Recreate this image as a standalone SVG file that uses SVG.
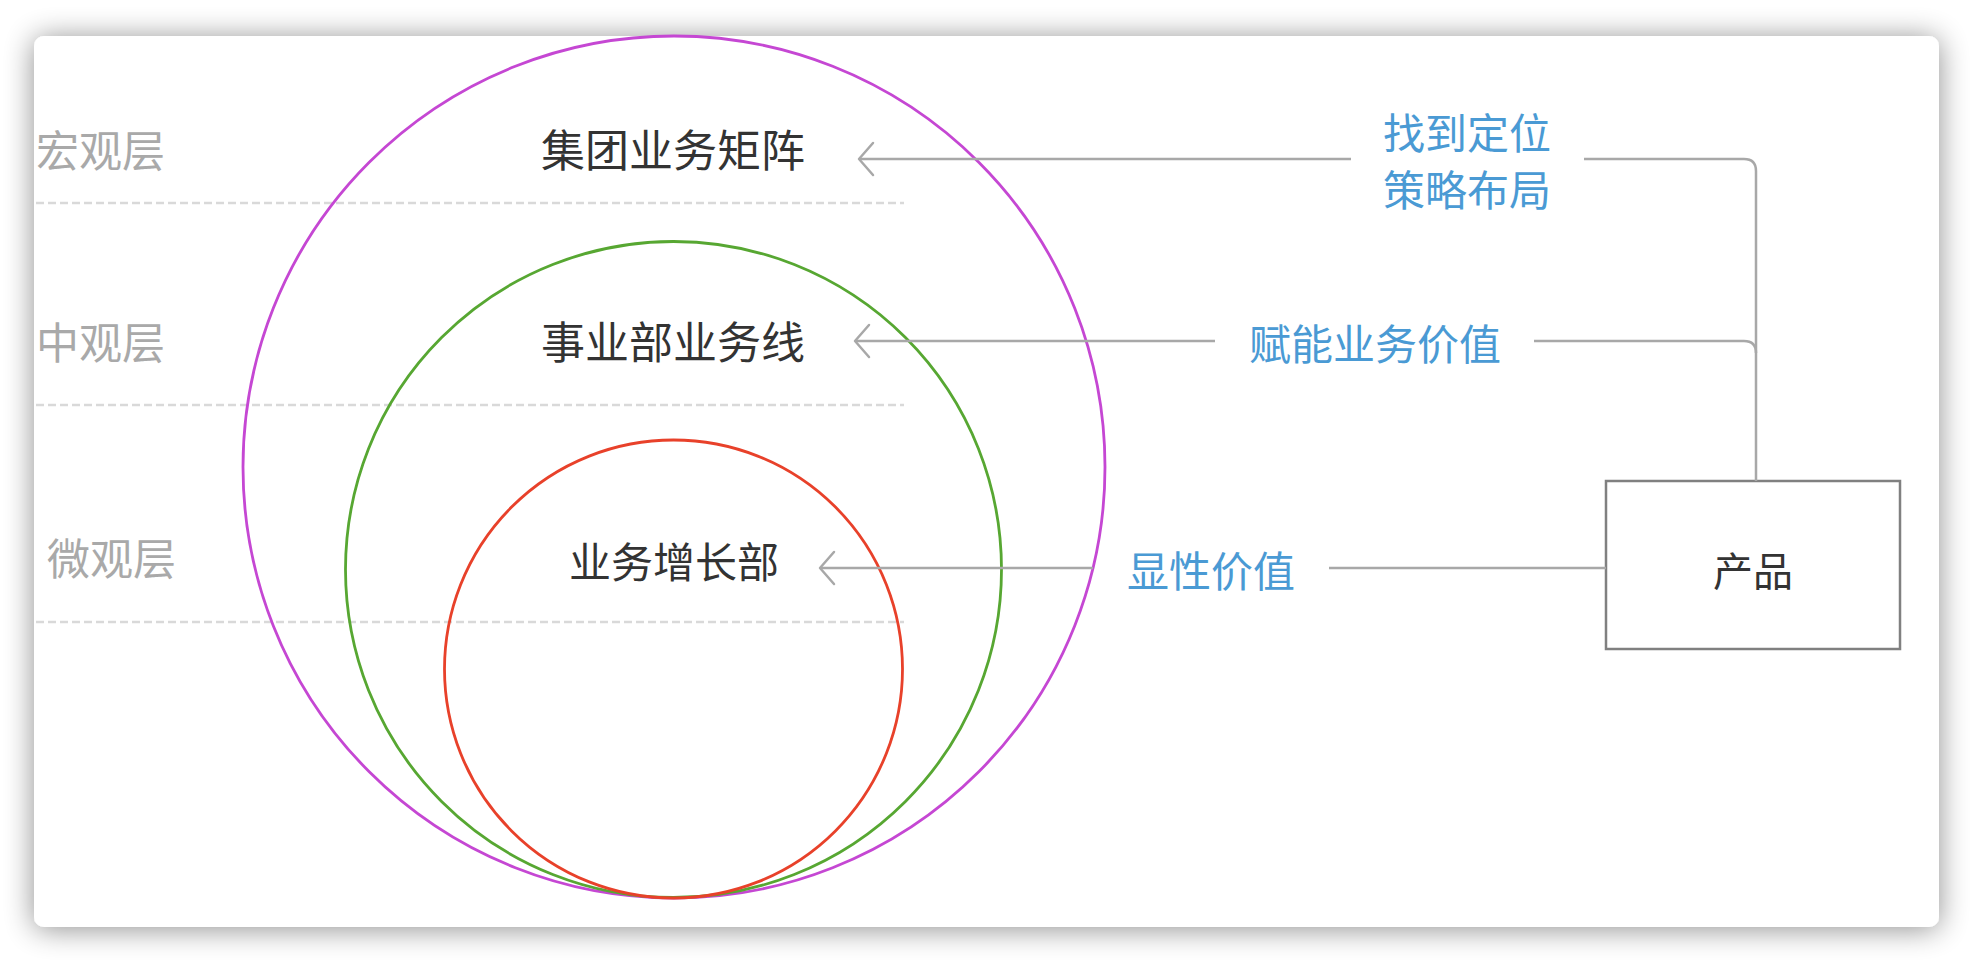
<svg xmlns="http://www.w3.org/2000/svg" width="1976" height="964" viewBox="0 0 1976 964">
  <defs>
    <filter id="shadow" x="-5%" y="-10%" width="110%" height="120%">
      <feGaussianBlur in="SourceAlpha" stdDeviation="15"/>
      <feOffset dx="0" dy="2" result="b"/>
      <feComponentTransfer><feFuncA type="linear" slope="0.45"/></feComponentTransfer>
      <feMerge><feMergeNode/><feMergeNode in="SourceGraphic"/></feMerge>
    </filter>
    <marker id="chev" markerUnits="userSpaceOnUse" markerWidth="18" markerHeight="36" refX="15" refY="18" orient="auto" overflow="visible">
      <path d="M1 2 L15 18 L1 34" fill="none" stroke="#a8a8a8" stroke-width="2.5" stroke-linecap="round" stroke-linejoin="round"/>
    </marker>
    <style>
      .layer { font-family: "Noto Sans CJK SC", "Noto Sans", sans-serif; font-size: 43px; fill: #a9a9a9; }
      .node { font-family: "Noto Sans CJK SC", "Noto Sans", sans-serif; font-size: 44px; fill: #333333; }
      .lbl { font-family: "Noto Sans CJK SC", "Noto Sans", sans-serif; font-size: 42px; fill: #4a9ad4; }
      .dash { stroke: #d9d9d9; stroke-width: 2.5; stroke-dasharray: 8 4; fill: none; }
      .conn { stroke: #a8a8a8; stroke-width: 2.5; fill: none; stroke-linejoin: round; }
      .ring { fill: none; stroke-width: 2.8; }
    </style>
  </defs>
  <rect width="1976" height="964" fill="#ffffff"/>
  <rect x="34" y="36" width="1905" height="891" rx="10" fill="#ffffff" filter="url(#shadow)"/>

  <g id="layers">
    <line class="dash" x1="36" y1="203" x2="904" y2="203"/>
    <line class="dash" x1="36" y1="405" x2="904" y2="405"/>
    <line class="dash" x1="36" y1="622" x2="904" y2="622"/>
    <text class="layer" x="36" y="148" dominant-baseline="central">宏观层</text>
    <text class="layer" x="36" y="340" dominant-baseline="central">中观层</text>
    <text class="layer" x="47" y="556" dominant-baseline="central">微观层</text>
  </g>

  <g id="group-matrix">
    <circle class="ring" cx="674" cy="467" r="431" stroke="#c547d3"/>
    <text class="node" x="673" y="148" text-anchor="middle" dominant-baseline="central">集团业务矩阵</text>
  </g>
  <g id="division-line">
    <circle class="ring" cx="673.5" cy="569.5" r="328" stroke="#57a732"/>
    <text class="node" x="673" y="340" text-anchor="middle" dominant-baseline="central">事业部业务线</text>
  </g>
  <g id="growth-dept">
    <circle class="ring" cx="673.5" cy="669" r="229" stroke="#e8412a"/>
    <text class="node" x="674" y="559" text-anchor="middle" dominant-baseline="central" style="font-size:42px">业务增长部</text>
  </g>

  <g id="product">
    <rect x="1606" y="481" width="294" height="168" fill="#ffffff" stroke="#808080" stroke-width="2.5"/>
    <text class="node" x="1753" y="569" text-anchor="middle" dominant-baseline="central" style="font-size:40px">产品</text>
  </g>

  <g id="connectors">
    <path class="conn" d="M1756 481 V171 Q1756 159 1744 159 H1584"/>
    <path class="conn" d="M1351 159 H859" marker-end="url(#chev)"/>
    <path class="conn" d="M1534 341 H1744 Q1756 341 1756 353"/>
    <path class="conn" d="M1215 341 H855" marker-end="url(#chev)"/>
    <path class="conn" d="M1606 568 H1329"/>
    <path class="conn" d="M1093 568 H820" marker-end="url(#chev)"/>
    <text class="lbl" x="1467" y="130" text-anchor="middle" dominant-baseline="central">找到定位</text>
    <text class="lbl" x="1467" y="187" text-anchor="middle" dominant-baseline="central">策略布局</text>
    <text class="lbl" x="1375" y="341" text-anchor="middle" dominant-baseline="central">赋能业务价值</text>
    <text class="lbl" x="1211" y="568" text-anchor="middle" dominant-baseline="central">显性价值</text>
  </g>
</svg>
